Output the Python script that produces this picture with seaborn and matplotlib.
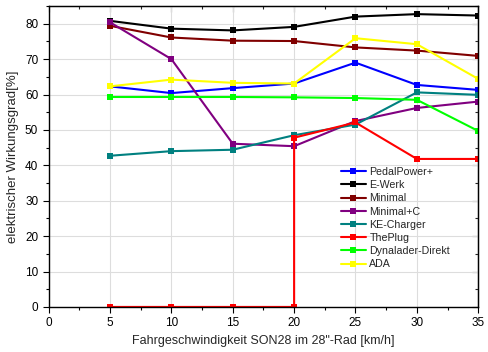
import matplotlib
matplotlib.use("Agg")
import matplotlib.pyplot as plt
import seaborn as sns
import pandas as pd
from matplotlib.ticker import MultipleLocator

speeds = [5, 10, 15, 20, 25, 30, 35]
pedalpower = [62.3, 60.4, 61.8, 63.1, 69.0, 62.7, 61.3]
ewerk = [80.8, 78.6, 78.1, 79.1, 82.0, 82.7, 82.3]
minimal = [79.4, 76.1, 75.2, 75.1, 73.3, 72.4, 70.9]
minimal_c = [80.4, 70.0, 46.1, 45.4, 52.5, 56.2, 58.0]
ke_charger = [42.7, 44.0, 44.4, 48.5, 51.5, 60.6, 59.9]
theplug_x = [5, 10, 15, 20, 20, 25, 30, 35]
theplug = [0, 0, 0, 0, 47.8, 52.1, 41.8, 41.8]
dynalader = [59.3, 59.3, 59.3, 59.2, 59.0, 58.5, 49.7]
ada = [62.3, 64.2, 63.3, 63.1, 75.9, 74.2, 64.4]

series = [
    ("PedalPower+", speeds, pedalpower, "#0000ff"),
    ("E-Werk", speeds, ewerk, "#000000"),
    ("Minimal", speeds, minimal, "#800000"),
    ("Minimal+C", speeds, minimal_c, "#800080"),
    ("KE-Charger", speeds, ke_charger, "#008080"),
    ("ThePlug", theplug_x, theplug, "#ff0000"),
    ("Dynalader-Direkt", speeds, dynalader, "#00ff00"),
    ("ADA", speeds, ada, "#ffff00"),
]

sns.set_style("white")
plt.rcParams['font.family'] = ['Liberation Sans', 'DejaVu Sans']

fig = plt.figure(figsize=(4.88, 3.52), dpi=100)
ax = fig.add_axes([0.0996, 0.128, 0.8804, 0.855])

for name, xs, ys, col in series:
    df = pd.DataFrame({"x": xs, "y": ys})
    sns.lineplot(data=df, x="x", y="y", ax=ax, color=col, marker="s",
                 markersize=5, markeredgewidth=0, linewidth=1.5,
                 label=name, sort=False, estimator=None)

ax.set_xlim(0, 35)
ax.set_ylim(0, 85)
ax.xaxis.set_major_locator(MultipleLocator(5))
ax.xaxis.set_minor_locator(MultipleLocator(2.5))
ax.yaxis.set_major_locator(MultipleLocator(10))
ax.yaxis.set_minor_locator(MultipleLocator(5))
ax.grid(True, which="major", color="#dddddd", linewidth=0.8)
ax.set_axisbelow(True)
for s in ax.spines.values():
    s.set_color("black")
    s.set_linewidth(1.0)
ax.tick_params(axis="both", which="both", direction="out", labelsize=8.5,
               bottom=True, left=True, colors="black")
ax.tick_params(which="major", length=4, width=0.8)
ax.tick_params(which="minor", length=2.5, width=0.8)

# inward ticks on top and right
axt = ax.secondary_xaxis("top")
axt.xaxis.set_major_locator(MultipleLocator(5))
axt.xaxis.set_minor_locator(MultipleLocator(2.5))
axt.tick_params(which="both", direction="in", labeltop=False)
axt.tick_params(which="major", length=4, width=0.8)
axt.tick_params(which="minor", length=2.5, width=0.8)
axr = ax.secondary_yaxis("right")
axr.yaxis.set_major_locator(MultipleLocator(10))
axr.yaxis.set_minor_locator(MultipleLocator(5))
axr.tick_params(which="both", direction="in", labelright=False)
axr.tick_params(which="major", length=4, width=0.8)
axr.tick_params(which="minor", length=2.5, width=0.8)

ax.set_xlabel("Fahrgeschwindigkeit SON28 im 28\"-Rad [km/h]", fontsize=9)
ax.set_ylabel("elektrischer Wirkungsgrad[%]", fontsize=9.5)

ax.legend(loc="lower right", bbox_to_anchor=(0.952, 0.1), frameon=False,
          fontsize=7.7, handlelength=2.4, handletextpad=0.3,
          labelspacing=0.3, borderpad=0.2)

fig.savefig("out.png", dpi=100)
